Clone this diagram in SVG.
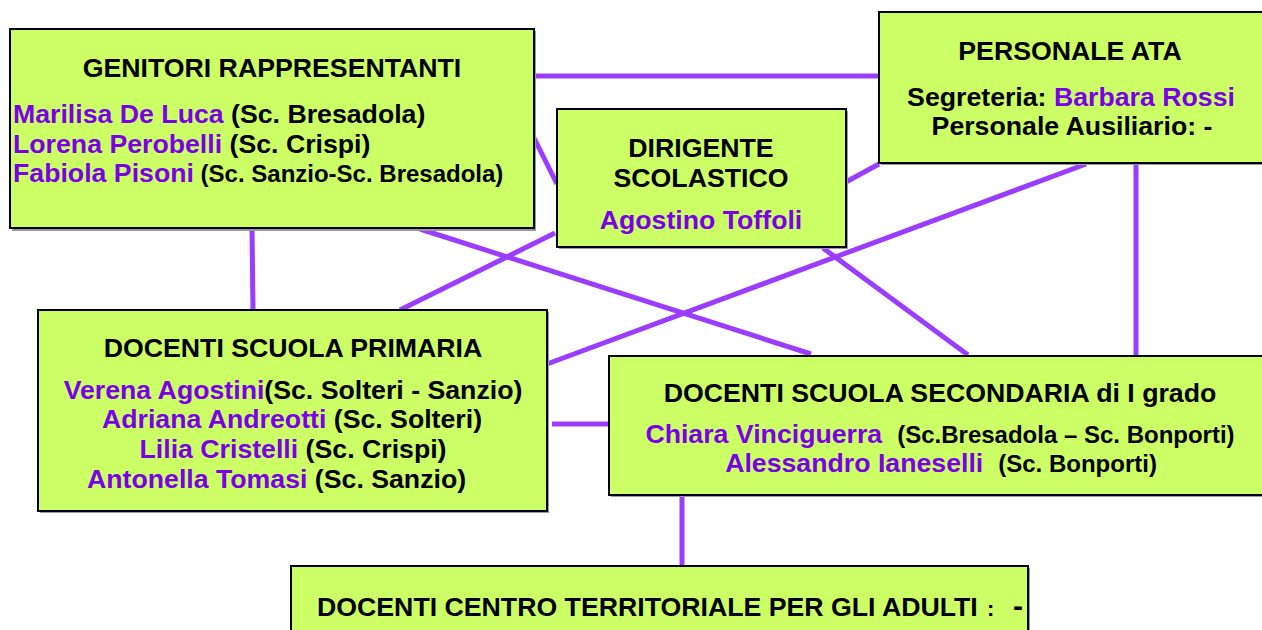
<svg xmlns="http://www.w3.org/2000/svg" width="1262" height="630" viewBox="0 0 1262 630">
<style>
  .box { fill: #CCFF66; stroke: #000; stroke-width: 2; }
  .shadow { fill: #9a9a9a; }
  .conn line { stroke: #9B3DFF; stroke-width: 5; stroke-linecap: butt; }
  text { font-family: "Liberation Sans", Arial, sans-serif; font-weight: bold; font-size: 26.7px; fill: #000; }
  .n { fill: #7A00E6; }
  .s { font-size: 24px; }
  .c { text-anchor: middle; }
</style>
<rect width="1262" height="630" fill="#fff"/>
<g id="connectors" class="conn">
  <line x1="534" y1="76" x2="879" y2="76"/>
  <line x1="534" y1="138" x2="557" y2="184"/>
  <line x1="846" y1="182" x2="879" y2="164"/>
  <line x1="252" y1="228" x2="253" y2="310"/>
  <line x1="420" y1="229" x2="811" y2="354"/>
  <line x1="555" y1="233" x2="400" y2="310"/>
  <line x1="1086" y1="164" x2="547" y2="364"/>
  <line x1="823" y1="248" x2="968" y2="355"/>
  <line x1="1136" y1="163" x2="1136" y2="356"/>
  <line x1="552" y1="424" x2="609" y2="424"/>
  <line x1="682" y1="495" x2="682" y2="566"/>
</g>
<g id="genitori">
  <rect class="shadow" x="12" y="31" width="524" height="200"/>
  <rect class="box" x="10" y="29" width="524" height="199"/>
  <text class="c" x="272" y="77">GENITORI RAPPRESENTANTI</text>
  <text x="13" y="123"><tspan class="n">Marilisa De Luca</tspan> (Sc. Bresadola)</text>
  <text x="13" y="153"><tspan class="n">Lorena Perobelli</tspan> (Sc. Crispi)</text>
  <text x="13" y="182"><tspan class="n">Fabiola Pisoni</tspan><tspan class="s"> (Sc. Sanzio-Sc. Bresadola)</tspan></text>
</g>
<g id="dirigente">
  <rect class="shadow" x="559" y="111" width="289" height="138"/>
  <rect class="box" x="557" y="109" width="289" height="138"/>
  <text class="c" x="701" y="157">DIRIGENTE</text>
  <text class="c" x="701" y="187">SCOLASTICO</text>
  <text class="c n" x="701" y="229">Agostino Toffoli</text>
</g>
<g id="ata">
  <rect class="shadow" x="881" y="14" width="390" height="151"/>
  <rect class="box" x="879" y="12" width="390" height="151"/>
  <text class="c" x="1070" y="60">PERSONALE ATA</text>
  <text class="c" x="1071" y="106">Segreteria: <tspan class="n">Barbara Rossi</tspan></text>
  <text class="c" x="1072" y="135">Personale Ausiliario: -</text>
</g>
<g id="primaria">
  <rect class="shadow" x="40" y="312" width="509" height="201"/>
  <rect class="box" x="38" y="310" width="509" height="201"/>
  <text class="c" x="293" y="357">DOCENTI SCUOLA PRIMARIA</text>
  <text class="c" x="293" y="399"><tspan class="n">Verena Agostini</tspan>(Sc. Solteri - Sanzio)</text>
  <text class="c" x="292" y="428"><tspan class="n">Adriana Andreotti</tspan> (Sc. Solteri)</text>
  <text class="c" x="293" y="458"><tspan class="n">Lilia Cristelli</tspan> (Sc. Crispi)</text>
  <text x="87" y="488"><tspan class="n">Antonella Tomasi</tspan> (Sc. Sanzio)</text>
</g>
<g id="secondaria">
  <rect class="shadow" x="611" y="358" width="670" height="139"/>
  <rect class="box" x="609" y="356" width="670" height="139"/>
  <text class="c" x="940" y="402">DOCENTI SCUOLA SECONDARIA di I grado</text>
  <text class="c" x="940" y="443"><tspan class="n">Chiara Vinciguerra</tspan><tspan class="s" dx="15">(Sc.Bresadola – Sc. Bonporti)</tspan></text>
  <text class="c" x="941" y="472"><tspan class="n">Alessandro Ianeselli</tspan><tspan class="s" dx="15">(Sc. Bonporti)</tspan></text>
</g>
<g id="cta">
  <rect class="shadow" x="293" y="568" width="737" height="80"/>
  <rect class="box" x="291" y="566" width="737" height="80"/>
  <text x="317" y="616" font-size="26.3">DOCENTI CENTRO TERRITORIALE PER GLI ADULTI<tspan x="987" font-size="22">:</tspan><tspan x="1013" font-size="30">-</tspan></text>
</g>
</svg>
